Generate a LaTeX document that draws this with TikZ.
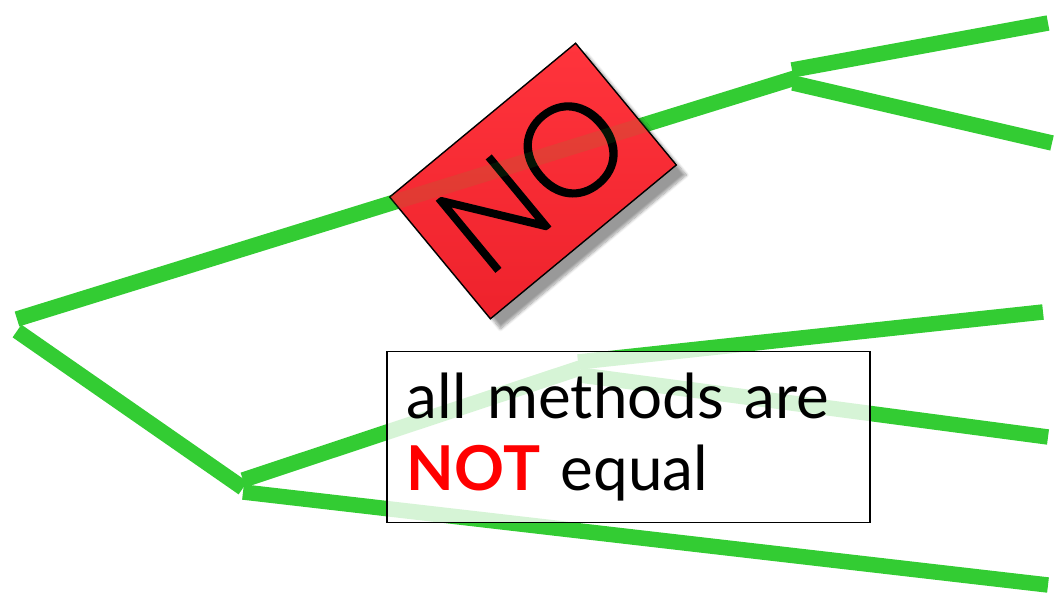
\documentclass[tikz,border=0pt]{standalone}
\usepackage{fontspec}
\setmainfont{Lato}
\newfontfamily\signfont[FakeBold=1.6]{Lato Light}
\usetikzlibrary{shadows.blur}
\definecolor{branchgreen}{RGB}{51,204,51}
\definecolor{nored}{RGB}{238,34,44}
\definecolor{noredlight}{RGB}{255,52,60}

\tikzset{
  branch/.style={draw=branchgreen, line width=11pt, line cap=butt},
  nobox/.style={draw=black, line width=1pt, top color=noredlight, middle color=nored, bottom color=nored,
    minimum width=6.03cm, minimum height=3.95cm, inner sep=0pt, rotate=39.6,
    blur shadow={shadow xshift=0.25cm, shadow yshift=-0.25cm, shadow blur steps=10, shadow opacity=40},
    font=\signfont\fontsize{92}{100}\selectfont},
  notebox/.style={draw=black, line width=1.2pt, fill=white, fill opacity=0.8, text opacity=1,
    align=left, text width=11.075cm, inner xsep=0.5cm, minimum height=4.275cm,
    font=\fontsize{44}{51}\selectfont}
}

\begin{document}
\begin{tikzpicture}[x=0.025cm, y=-0.025cm]
  \useasboundingbox (0,0) rectangle (1057,605);
  % branch points
  \coordinate (r1) at (17,319);
  \coordinate (r2) at (17,331);
  \coordinate (a0) at (795,78);
  \coordinate (a1) at (792,70);
  \coordinate (a2) at (793,83);
  \coordinate (a3) at (1048,23);
  \coordinate (a4) at (1052,143);
  \coordinate (b0) at (243,488);
  \coordinate (b1) at (243,480);
  \coordinate (b2) at (243,492);
  \coordinate (c0) at (580,368);
  \coordinate (c1) at (578,362);
  \coordinate (c2) at (580,375);
  \coordinate (c3) at (1043,312);
  \coordinate (c4) at (1048,437);
  \coordinate (b3) at (1048,585);
  % tree
  \draw[branch] (r1) -- (a0);
  \draw[branch] (a1) -- (a3);
  \draw[branch] (a2) -- (a4);
  \draw[branch] (r2) -- (b0);
  \draw[branch] (b1) -- (c0);
  \draw[branch] (c1) -- (c3);
  \draw[branch] (c2) -- (c4);
  \draw[branch] (b2) -- (b3);
  % labels
  \node[notebox] (note) at (628.5,437) {all methods are\\\textcolor{red}{\textbf{NOT}} equal};
  \node[nobox] (no) at (533,181) {NO};
  % branch seen through the sign
  \draw[branch, draw opacity=0.1] (r1) -- (a0);
\end{tikzpicture}
\end{document}
